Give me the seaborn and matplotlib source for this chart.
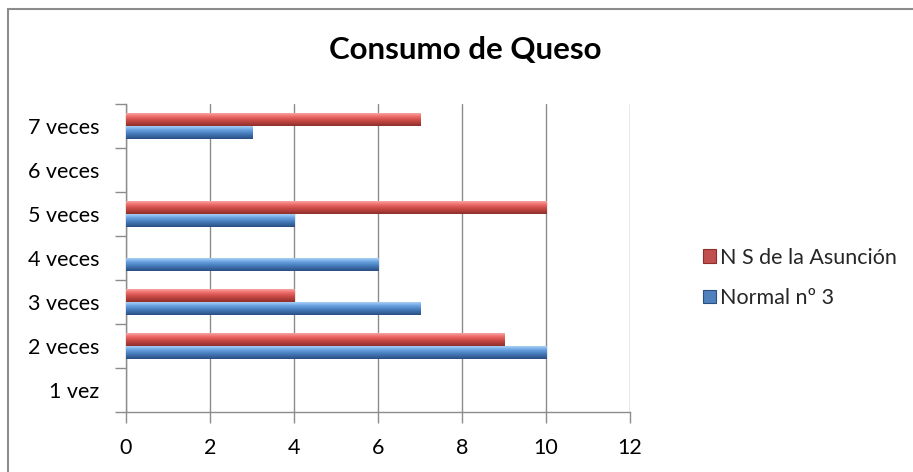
import numpy as np
import pandas as pd
import matplotlib
matplotlib.use("Agg")
import matplotlib.pyplot as plt
from matplotlib.patches import Rectangle, Patch
from matplotlib.colors import LinearSegmentedColormap
import seaborn as sns

categories = ["7 veces", "6 veces", "5 veces", "4 veces", "3 veces", "2 veces", "1 vez"]
series_names = ["N S de la Asunción", "Normal nº 3"]
asuncion = [7, 0, 10, 0, 4, 9, 0]
normal3 = [3, 0, 4, 6, 7, 10, 0]
x_ticks = [0, 2, 4, 6, 8, 10, 12]

df = pd.DataFrame({
    "categoria": categories * 2,
    "serie": [series_names[0]] * len(categories) + [series_names[1]] * len(categories),
    "valor": asuncion + normal3,
})

base_colors = {series_names[0]: "#C0504D", series_names[1]: "#4F81BD"}
gradients = {
    series_names[0]: ["#F7A5A3", "#EE6E6B", "#D24F4C", "#B03E3B", "#8E2E2C"],
    series_names[1]: ["#A9D0F5", "#6FA7E6", "#4F86C6", "#3A6AA6", "#2A4F80"],
}

sns.set_theme(style="white")
plt.rcParams["font.family"] = ["Lato", "DejaVu Sans"]

W, H = 913, 472
fig = plt.figure(figsize=(W / 100, H / 100), dpi=100)
ax = fig.add_axes([126 / W, 1 - 412 / H, (630 - 126) / W, (412 - 104) / H])

sns.barplot(data=df, y="categoria", x="valor", hue="serie", order=categories,
            hue_order=series_names, palette=base_colors, width=0.59,
            orient="h", ax=ax, legend=False, saturation=1)

ax.set_xlim(0, 12)
ylim = ax.get_ylim()

# vertical gradient fill clipped to every bar
n_cat = len(categories)
for i, patch in enumerate(ax.patches[: 2 * n_cat]):
    name = series_names[i // n_cat]
    x0, y0 = patch.get_x(), patch.get_y()
    w, h = patch.get_width(), patch.get_height()
    if w <= 0:
        continue
    cmap = LinearSegmentedColormap.from_list(name, gradients[name])
    grad = np.linspace(0, 1, 64).reshape(-1, 1)
    patch.set_facecolor("none")
    patch.set_edgecolor("none")
    img = ax.imshow(grad, cmap=cmap, aspect="auto", origin="upper",
                    extent=(x0, x0 + w, y0 + h, y0), zorder=3,
                    interpolation="bilinear")
    img.set_clip_path(patch)
ax.set_xlim(0, 12)
ax.set_ylim(ylim)

ax.set_xticks(x_ticks)
ax.set_xticklabels([str(t) for t in x_ticks])
ax.set_xlabel("")
ax.set_ylabel("")
ax.grid(axis="x", color="#8C8C8C", linewidth=1.0)
ax.set_axisbelow(True)
for side in ["top", "right"]:
    ax.spines[side].set_visible(False)
for side in ["left", "bottom"]:
    ax.spines[side].set_color("#8C8C8C")
    ax.spines[side].set_linewidth(1.0)

ax.set_yticks(np.arange(-0.5, n_cat, 1.0), minor=True)
ax.tick_params(axis="y", which="major", length=0, pad=19, labelsize=15.5, labelcolor="black")
ax.tick_params(axis="y", which="minor", length=8, width=1, color="#8C8C8C", direction="out")
ax.tick_params(axis="x", which="major", length=8, width=1, color="#8C8C8C", direction="out",
               pad=11, labelsize=15.5, labelcolor="black", bottom=True)
ax.tick_params(axis="y", left=True, which="minor")

fig.text(465 / W, 1 - 50 / H, "Consumo de Queso", ha="center", va="center",
         fontsize=22.5, fontweight="bold", color="black")

handles = [Patch(facecolor=base_colors[s], edgecolor=gradients[s][-1], linewidth=0.8)
           for s in series_names]
fig.legend(handles, series_names, loc="center left",
           bbox_to_anchor=(703 / W, 1 - 278 / H), frameon=False,
           fontsize=15.5, handlelength=0.6, handleheight=0.6,
           handletextpad=0.2, labelspacing=0.95, borderpad=0, borderaxespad=0)

fig.add_artist(Rectangle((7.5 / W, -0.05), 1.1, 1 - 8.5 / H + 0.05,
                         transform=fig.transFigure, fill=False,
                         edgecolor="#8C8C8C", linewidth=1.5))

fig.savefig("out.png", dpi=100, facecolor="white")
